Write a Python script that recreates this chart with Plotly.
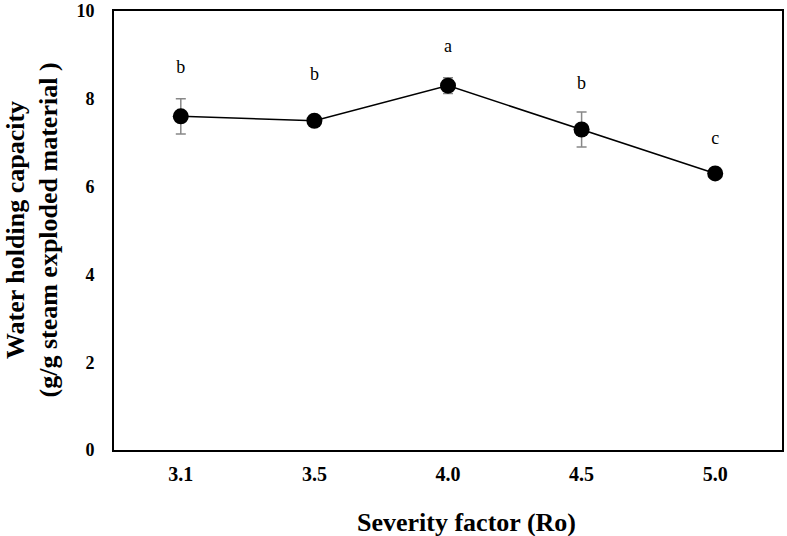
import plotly.graph_objects as go

severity = ["3.1", "3.5", "4.0", "4.5", "5.0"]
whc = [7.6, 7.5, 8.3, 7.3, 6.3]
whc_err = [0.4, 0.1, 0.18, 0.4, 0.08]
letters = ["b", "b", "a", "b", "c"]
letter_y = [8.69, 8.53, 9.16, 8.33, 7.07]
y_ticks = [0, 2, 4, 6, 8, 10]

serif = "Liberation Serif, Times New Roman, serif"

fig = go.Figure()
fig.add_trace(go.Scatter(
    x=severity, y=whc,
    mode="lines+markers",
    line=dict(color="black", width=1.5),
    marker=dict(color="black", size=16),
    error_y=dict(type="data", array=whc_err, color="#888888", thickness=1.5, width=5),
    showlegend=False, cliponaxis=False,
))
fig.add_trace(go.Scatter(
    x=severity, y=letter_y, text=letters,
    mode="text",
    textfont=dict(family=serif, size=18, color="black"),
    showlegend=False,
))

fig.update_layout(
    width=787, height=536,
    margin=dict(l=114, r=5, t=11, b=86),
    plot_bgcolor="white", paper_bgcolor="white",
    font=dict(family=serif, color="black"),
    xaxis=dict(
        type="category", range=[-0.5, 4.5], automargin=False,
        showline=True, linecolor="black", linewidth=2, mirror=True,
        showgrid=False, ticks="", ticklabelstandoff=5,
        tickfont=dict(family=serif, size=20, weight="bold"),
    ),
    yaxis=dict(
        range=[0, 10], tickvals=y_ticks, ticktext=[str(v) for v in y_ticks],
        automargin=False,
        showline=True, linecolor="black", linewidth=2, mirror=True,
        showgrid=False, ticks="", zeroline=False, ticklabelstandoff=14,
        ticklabeloverflow="allow",
        tickfont=dict(family=serif, size=18, weight="bold"),
    ),
    annotations=[
        dict(text="Water holding capacity<br>(g/g steam exploded material )",
             xref="paper", yref="paper", x=0, y=0.5, xshift=-82,
             xanchor="center", yanchor="middle", textangle=-90, showarrow=False,
             font=dict(family=serif, size=26, weight="bold")),
        dict(text="Severity factor (Ro)",
             xref="paper", yref="paper", x=0.5, y=0, xshift=18, yshift=-72,
             xanchor="center", yanchor="middle", showarrow=False,
             font=dict(family=serif, size=26, weight="bold")),
    ],
)

fig.write_html("out.html")
